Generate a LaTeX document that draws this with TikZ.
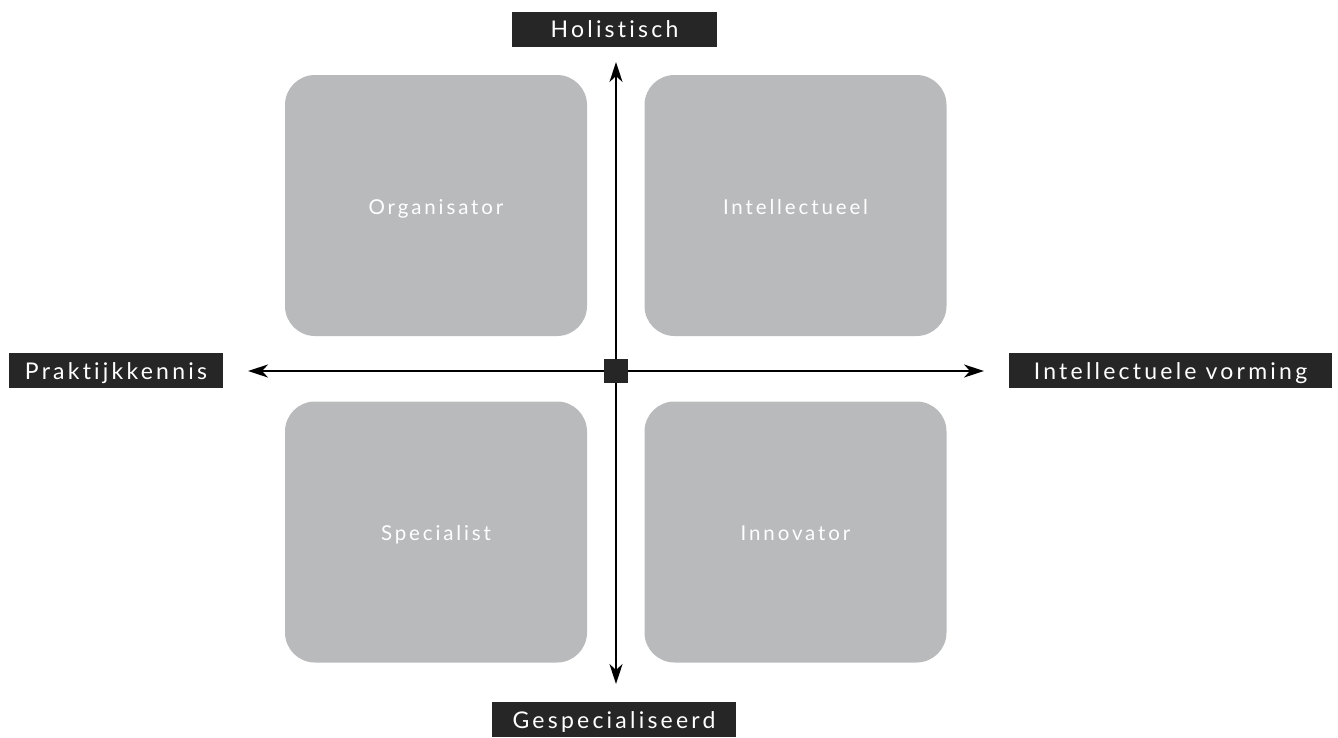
\documentclass[tikz,border=0pt]{standalone}
\usepackage{fontspec}
\setmainfont{Lato}[LetterSpace=14, Ligatures={NoCommon}]
\usetikzlibrary{arrows.meta}
\definecolor{boxgray}{HTML}{B9BABC}
\definecolor{labeldark}{HTML}{262626}
\tikzset{
  quad/.style={fill=boxgray, rounded corners=30pt, minimum width=302pt, minimum height=261pt, inner sep=0pt, text=white, text height=17pt, text depth=0pt, font=\fontsize{20.5}{24}\selectfont},
  axislabel/.style={fill=labeldark, text=white, inner sep=0pt, minimum height=35pt, text height=17pt, text depth=0pt, font=\fontsize{23}{27}\selectfont},
  axis/.style={line width=2pt, -{Stealth[length=20pt, width=13pt, inset=6pt]}},
}
\begin{document}
\begin{tikzpicture}[x=1pt,y=-1pt]
\useasboundingbox (0,0) rectangle (1338,737);
\node[quad] (org) at (436,205.5) {Organisator};
\node[quad] (int) at (795.5,205.5) {Intellectueel};
\node[quad] (spe) at (436,532) {Specialist};
\node[quad] (inn) at (795.5,532) {Innovator};
\node[axislabel, minimum width=205pt] (hol) at (614.5,29) {Holistisch};
\node[axislabel, minimum width=214pt] (pra) at (116,370.5) {Praktijkkennis};
\node[axislabel, minimum width=323pt] (ivo) at (1170.5,370.5) {Intellectuele vorming};
\node[axislabel, minimum width=244pt] (ges) at (614,719.5) {Gespecialiseerd};
\node[fill=labeldark, minimum size=24pt, inner sep=0pt] (c) at (616,371) {};
\coordinate (top) at (616,62);
\coordinate (bot) at (616,684);
\coordinate (lft) at (248,371);
\coordinate (rgt) at (984,371);
\draw[axis] (c.north) -- (top);
\draw[axis] (c.south) -- (bot);
\draw[axis] (c.west) -- (lft);
\draw[axis] (c.east) -- (rgt);
\end{tikzpicture}
\end{document}
